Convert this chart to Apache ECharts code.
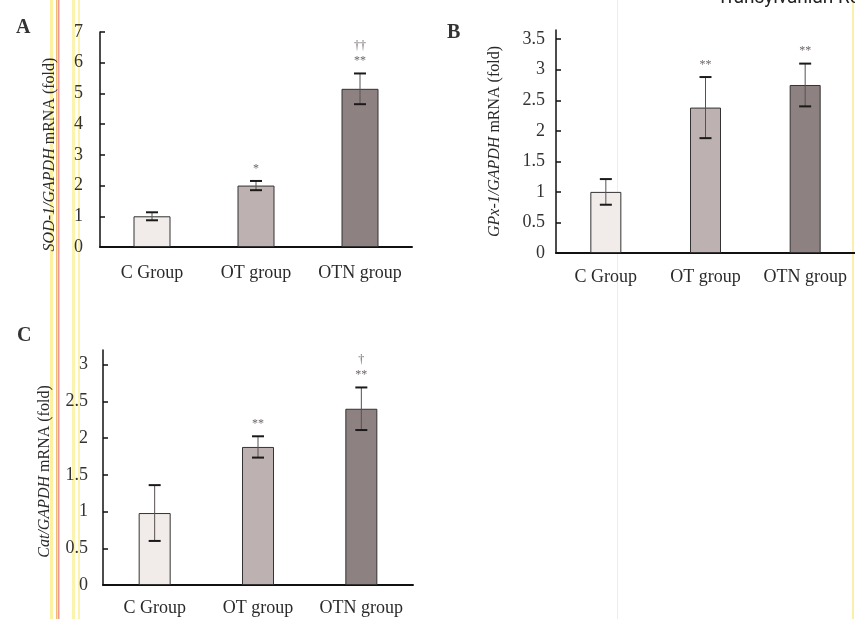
<!DOCTYPE html>
<html>
<head>
<meta charset="utf-8">
<style>
  html, body { margin: 0; padding: 0; background: #fff; }
  #chart { width: 855px; height: 619px; }
</style>
<script src="https://cdn.jsdelivr.net/npm/echarts@6/dist/echarts.min.js"></script>
</head>
<body>
<div id="chart"></div>
<script>
const categories = ['C Group', 'OT group', 'OTN group']
const barColors = ['#f1ebea', '#bdb1b1', '#8e8181']

// panel A: SOD-1
const sodMean = [1.0, 2.0, 5.15]
const sodErr = [0.13, 0.15, 0.5]
const sodMarks = ['', '*', '††\n**']

// panel B: GPx-1
const gpxMean = [1.0, 2.38, 2.75]
const gpxErr = [0.21, 0.5, 0.35]
const gpxMarks = ['', '**', '**']

// panel C: Cat
const catMean = [0.98, 1.88, 2.4]
const catErr = [0.38, 0.145, 0.29]
const catMarks = ['', '**', '†\n**']

const serif = '"Liberation Serif", "DejaVu Serif", serif'

const chart = echarts.init(document.getElementById('chart'))

function makeErrorRender(marks, cap) {
  return function (params, api) {
    const i = api.value(0)
    const lo = api.coord([i, api.value(1)])
    const hi = api.coord([i, api.value(2)])
    const x = lo[0]
    const children = [
      { type: 'line', shape: { x1: x, y1: lo[1], x2: x, y2: hi[1] }, style: { stroke: '#5a5050', lineWidth: 1 } },
      { type: 'line', shape: { x1: x - cap, y1: hi[1], x2: x + cap, y2: hi[1] }, style: { stroke: '#1a1a1a', lineWidth: 2 } },
      { type: 'line', shape: { x1: x - cap, y1: lo[1], x2: x + cap, y2: lo[1] }, style: { stroke: '#1a1a1a', lineWidth: 2 } }
    ]
    const m = marks[params.dataIndex]
    if (m) {
      children.push({
        type: 'text',
        style: {
          x: x, y: hi[1] - 5, text: m, align: 'center', verticalAlign: 'bottom',
          fill: '#6e6666', fontSize: 12, fontFamily: serif, lineHeight: 15
        }
      })
    }
    return { type: 'group', children: children }
  }
}

function errData(mean, err) {
  return mean.map((v, i) => [i, v - err[i], v + err[i]])
}

function barData(mean) {
  return mean.map((v, i) => ({ value: v, itemStyle: { color: barColors[i] } }))
}

function xAxisOf(gridIndex, margin) {
  return {
    type: 'category',
    gridIndex: gridIndex,
    data: categories,
    axisTick: { show: false },
    axisLine: { lineStyle: { color: '#111', width: 2 } },
    axisLabel: { interval: 0, color: '#2a2a2a', fontSize: 18, fontFamily: serif, margin: margin }
  }
}

function yAxisOf(gridIndex, max, interval, gene, nameGap, labelMargin, shift) {
  return {
    type: 'value',
    gridIndex: gridIndex,
    min: 0,
    max: max,
    interval: interval,
    name: '{i|' + gene + '}{n| mRNA (fold)}',
    nameLocation: 'middle',
    nameGap: nameGap,
    nameTextStyle: {
      color: '#2a2a2a', fontSize: 16, fontFamily: serif,
      padding: [0, shift, 0, 0],
      rich: {
        i: { fontStyle: 'italic', fontSize: 16, fontFamily: serif, color: '#2a2a2a' },
        n: { fontSize: 16, fontFamily: serif, color: '#2a2a2a' }
      }
    },
    splitLine: { show: false },
    axisLine: { show: true, lineStyle: { color: '#111', width: 1.5 } },
    axisTick: { show: true, inside: true, length: 5, lineStyle: { color: '#111', width: 1.5 } },
    axisLabel: { color: '#333', fontSize: 18, fontFamily: serif, margin: labelMargin, showMaxLabel: max % interval === 0 }
  }
}

// scanner streaks on the page
const streaks = [
  { x: 50, w: 3, c: 'rgba(250,235,120,0.7)' },
  { x: 56, w: 1.5, c: 'rgba(240,170,70,0.8)' },
  { x: 58, w: 1.5, c: 'rgba(230,110,110,0.7)' },
  { x: 72, w: 3, c: 'rgba(250,235,120,0.6)' },
  { x: 78, w: 2, c: 'rgba(250,235,120,0.6)' },
  { x: 617, w: 1, c: 'rgba(245,230,150,0.6)' },
  { x: 852, w: 2, c: 'rgba(245,230,120,0.6)' }
]

chart.setOption({
  animation: false,
  backgroundColor: '#fff',
  grid: [
    { left: 100, top: 32, width: 312, height: 215 },
    { left: 556, top: 30, width: 299, height: 223 },
    { left: 103, top: 350, width: 310, height: 235 }
  ],
  xAxis: [xAxisOf(0, 17), xAxisOf(1, 15), xAxisOf(2, 14)],
  yAxis: [
    yAxisOf(0, 7, 1, 'SOD-1/GAPDH', 42, 17, 30),
    yAxisOf(1, 3.65, 0.5, 'GPx-1/GAPDH', 53, 11, 0),
    yAxisOf(2, 3.2, 0.5, 'Cat/GAPDH', 50, 15, 8)
  ],
  graphic: [
    ...streaks.map(s => ({
      type: 'rect', silent: true, z: -1,
      shape: { x: s.x, y: 0, width: s.w, height: 619 },
      style: { fill: s.c }
    })),
    { type: 'text', left: 16, top: 18, style: { text: 'A', fontSize: 20, fontWeight: 'bold', fontFamily: serif, fill: '#333' } },
    { type: 'text', left: 447, top: 23, style: { text: 'B', fontSize: 20, fontWeight: 'bold', fontFamily: serif, fill: '#333' } },
    { type: 'text', left: 17, top: 326, style: { text: 'C', fontSize: 20, fontWeight: 'bold', fontFamily: serif, fill: '#333' } },
    { type: 'text', left: 717, top: -11, style: { text: 'Transylvanian Review', fontSize: 19, fontFamily: 'Roboto, sans-serif', fill: '#222' } }
  ],
  series: [
    { type: 'bar', xAxisIndex: 0, yAxisIndex: 0, barWidth: 37, data: barData(sodMean), itemStyle: { borderColor: '#333', borderWidth: 1 } },
    { type: 'custom', xAxisIndex: 0, yAxisIndex: 0, data: errData(sodMean, sodErr), renderItem: makeErrorRender(sodMarks, 6), z: 5 },
    { type: 'bar', xAxisIndex: 1, yAxisIndex: 1, barWidth: 31, data: barData(gpxMean), itemStyle: { borderColor: '#333', borderWidth: 1 } },
    { type: 'custom', xAxisIndex: 1, yAxisIndex: 1, data: errData(gpxMean, gpxErr), renderItem: makeErrorRender(gpxMarks, 6), z: 5 },
    { type: 'bar', xAxisIndex: 2, yAxisIndex: 2, barWidth: 32, data: barData(catMean), itemStyle: { borderColor: '#333', borderWidth: 1 } },
    { type: 'custom', xAxisIndex: 2, yAxisIndex: 2, data: errData(catMean, catErr), renderItem: makeErrorRender(catMarks, 6), z: 5 }
  ]
})
</script>
</body>
</html>
